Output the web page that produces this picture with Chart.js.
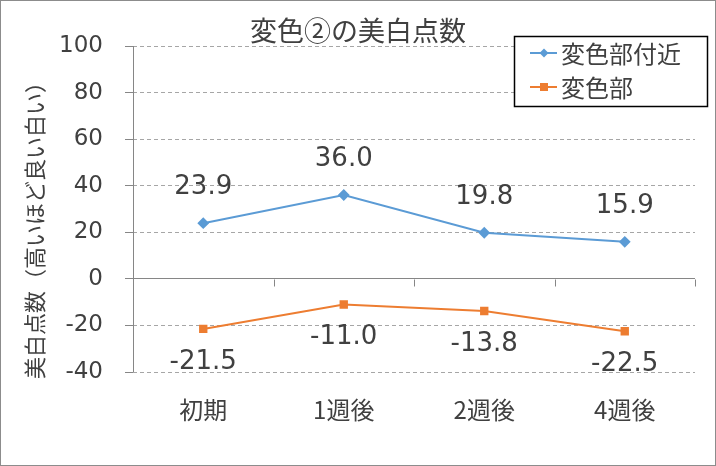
<!DOCTYPE html>
<html><head><meta charset="utf-8">
<script src="https://cdn.jsdelivr.net/npm/chart.js"></script>
<style>html,body{margin:0;padding:0;background:#fff}#wrap{width:716px;height:466px;position:relative}</style>
</head><body><div id="wrap"><canvas id="c" width="716" height="466"></canvas></div>
<script>
const categories = ['初期', '1週後', '2週後', '4週後'];
const seriesNames = ['変色部付近', '変色部'];
const nearValues = [23.9, 36.0, 19.8, 15.9];
const spotValues = [-21.5, -11.0, -13.8, -22.5];
const yTicks = [-40, -20, 0, 20, 40, 60, 80, 100];
const titleText = '変色②の美白点数';
const yTitleText = '美白点数（高いほど良い白い）';

const BLUE = '#5B9BD5', ORANGE = '#ED7D31', TXT = '#404040', AXIS = '#868686', GRID = '#A6A6A6';
const JP = '"Noto Sans CJK JP", "Noto Sans", sans-serif';
const NUM = '"DejaVu Sans", Verdana, sans-serif';

const extras = {
  id: 'extras',
  beforeDatasetsDraw(chart) {
    const {ctx, chartArea: a, scales: {x, y}} = chart;
    ctx.save();
    ctx.strokeStyle = AXIS; ctx.lineWidth = 1; ctx.setLineDash([]);
    ctx.beginPath(); ctx.moveTo(Math.round(a.left) + 0.5, a.top); ctx.lineTo(Math.round(a.left) + 0.5, a.bottom); ctx.stroke();
    const y0 = Math.round(y.getPixelForValue(0)) + 0.5;
    const w = x.getPixelForValue(1) - x.getPixelForValue(0);
    const start = x.getPixelForValue(0) - w / 2;
    for (let k = 0; k <= categories.length; k++) {
      const px = Math.round(start + k * w) + 0.5;
      ctx.beginPath(); ctx.moveTo(px, y0); ctx.lineTo(px, y0 + 7); ctx.stroke();
    }
    ctx.restore();
  },
  afterDatasetsDraw(chart) {
    const {ctx} = chart;
    ctx.save();
    ctx.font = '26px ' + NUM; ctx.fillStyle = TXT; ctx.textAlign = 'center'; ctx.textBaseline = 'middle';
    chart.data.datasets.forEach((ds, di) => {
      const meta = chart.getDatasetMeta(di);
      meta.data.forEach((pt, i) => {
        const v = ds.data[i];
        const off = di === 0 ? -36 : 33;
        ctx.fillText(v.toFixed(1), pt.x, pt.y + off);
      });
    });
    ctx.restore();
  },
  afterDraw(chart) {
    const {ctx} = chart;
    ctx.save();
    ctx.font = '27px ' + JP; ctx.fillStyle = TXT; ctx.textAlign = 'center'; ctx.textBaseline = 'middle';
    ctx.fillText(titleText, 358, 31);
    ctx.save();
    ctx.translate(35, 225); ctx.rotate(-Math.PI / 2);
    ctx.font = '22px ' + JP; ctx.fillStyle = TXT;
    ctx.fillText(yTitleText, 0, 0);
    ctx.restore();
    const lx = 514, ly = 36, lw = 193, lh = 70;
    ctx.fillStyle = '#fff'; ctx.fillRect(lx, ly, lw, lh);
    ctx.strokeStyle = '#000'; ctx.lineWidth = 1.5; ctx.strokeRect(lx + 0.5, ly + 0.5, lw, lh);
    chart.data.datasets.forEach((ds, i) => {
      const cy = ly + 17 + i * 34;
      ctx.strokeStyle = ds.borderColor; ctx.lineWidth = 2;
      ctx.beginPath(); ctx.moveTo(530, cy); ctx.lineTo(557, cy); ctx.stroke();
      ctx.fillStyle = ds.borderColor;
      if (ds.pointStyle === 'rect') { ctx.fillRect(540, cy - 4, 8, 8); }
      else { ctx.beginPath(); ctx.moveTo(544, cy - 4.5); ctx.lineTo(548.5, cy); ctx.lineTo(544, cy + 4.5); ctx.lineTo(539.5, cy); ctx.closePath(); ctx.fill(); }
      ctx.fillStyle = TXT; ctx.font = '24px ' + JP; ctx.textAlign = 'left'; ctx.textBaseline = 'middle';
      ctx.fillText(ds.label, 561, cy + 1);
    });
    ctx.strokeStyle = '#8C8C8C'; ctx.lineWidth = 1;
    ctx.strokeRect(0.5, 0.5, 715, 465);
    ctx.restore();
  }
};

new Chart(document.getElementById('c'), {
  type: 'line',
  data: {
    labels: categories,
    datasets: [
      { label: seriesNames[0], data: nearValues, borderColor: BLUE, backgroundColor: BLUE, borderWidth: 2,
        pointStyle: 'rectRot', pointRadius: 4.5, tension: 0 },
      { label: seriesNames[1], data: spotValues, borderColor: ORANGE, backgroundColor: ORANGE, borderWidth: 2,
        pointStyle: 'rect', pointRadius: 4.5, tension: 0 }
    ]
  },
  options: {
    responsive: false, animation: false, devicePixelRatio: 1,
    layout: { padding: { left: 0, top: 46, right: 21, bottom: 0 } },
    plugins: { legend: { display: false }, title: { display: false }, tooltip: { enabled: false } },
    scales: {
      x: {
        offset: true,
        grid: { display: false },
        border: { display: false },
        ticks: { color: TXT, font: { family: JP, size: 24 }, padding: 15, maxRotation: 0 },
        afterFit(s) { s.height = 94; }
      },
      y: {
        min: -40, max: 100,
        afterBuildTicks(s) { s.ticks = yTicks.map(v => ({ value: v })); },
        grid: {
          color: c => (c.tick && c.tick.value === 0) ? AXIS : GRID,
          lineWidth: 1, tickLength: 8, tickColor: AXIS
        },
        border: { display: false, dash: c => (c.tick && c.tick.value === 0) ? [] : [4, 3] },
        ticks: { color: TXT, font: { family: NUM, size: 23 }, padding: 22 },
        afterFit(s) { s.width = 133; }
      }
    }
  },
  plugins: [extras]
});
</script></body></html>
